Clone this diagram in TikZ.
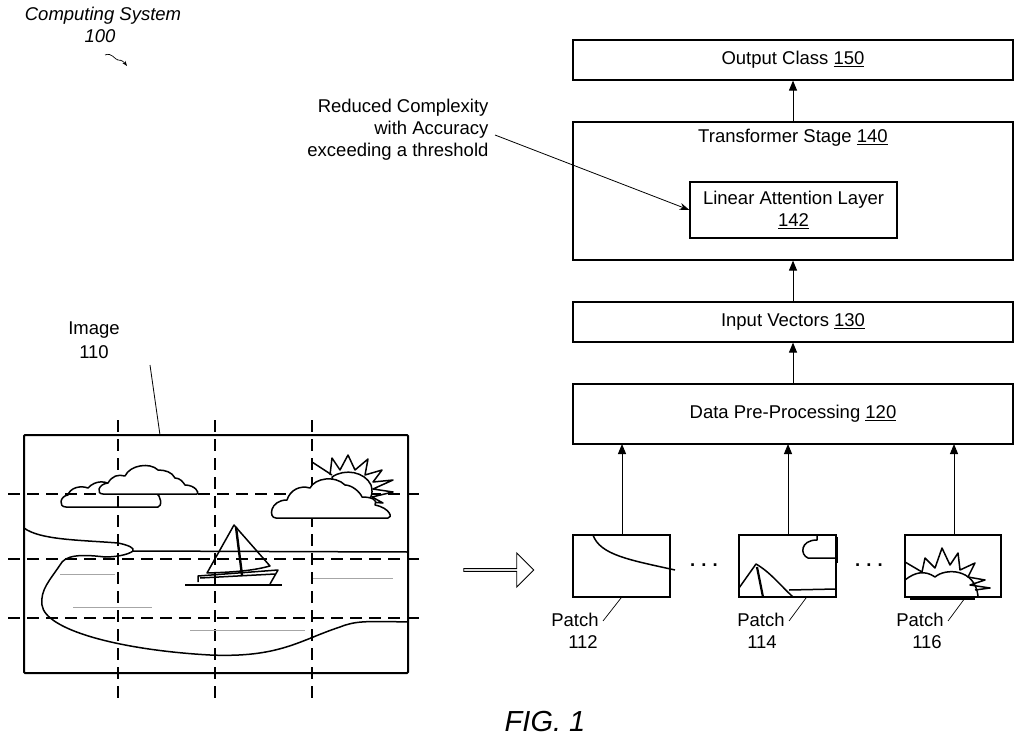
\documentclass[tikz,border=0pt]{standalone}
\usepackage{fontspec}
\setmainfont{Liberation Sans}
\usetikzlibrary{arrows.meta,shapes.arrows,decorations.pathmorphing}
\begin{document}
\begin{tikzpicture}[x=1pt,y=-1pt,
  box/.style={draw,line width=1.2pt,inner sep=0},
  lbl/.style={font=\fontsize{18.5}{22}\selectfont,align=center},
  arr/.style={-{Triangle[length=10pt,width=8pt]},line width=1pt},
  gridl/.style={dash pattern=on 12pt off 7pt,line width=1.4pt},
  pic/.style={line width=1.5pt,line join=round},
  grey/.style={gray!70,line width=1pt}]
\useasboundingbox (0,0) rectangle (1024,743);
% right column
\node[box,minimum width=440,minimum height=40] (out) at (793,60) {};
\node[lbl] at (out) {Output Class \underline{150}};
\node[box,minimum width=440,minimum height=138] (tr) at (793,191) {};
\node[lbl] at (793,138) {Transformer Stage \underline{140}};
\node[box,minimum width=207,minimum height=56,lbl] (lin) at (793.5,210) {Linear Attention Layer\\\underline{142}};
\node[box,minimum width=440,minimum height=40] (iv) at (793,322) {};
\node[lbl] at (iv) {Input Vectors \underline{130}};
\node[box,minimum width=440,minimum height=60] (dp) at (793,414) {};
\node[lbl] at (dp) {Data Pre-Processing \underline{120}};
\draw[arr] (dp.north) -- (iv.south);
\draw[arr] (iv.north) -- (tr.south);
\draw[arr] (tr.north) -- (out.south);
\node[lbl,align=right,anchor=east] (rc) at (492,130) {Reduced Complexity\\with Accuracy\\exceeding a threshold};
\coordinate (rcA) at (495,135);
\draw[-{Stealth[length=10pt,width=7pt]},line width=0.8pt] (rcA) -- (lin.west);
% patches
\node[box,minimum width=97,minimum height=62] (p1) at (621.5,566) {};
\node[box,minimum width=97,minimum height=62] (p2) at (787.5,566) {};
\node[box,minimum width=96,minimum height=62] (p3) at (953,566) {};
\foreach \p/\x in {p1/622,p2/788,p3/954}{
  \draw[arr] (\x,535) -- (\x,444);}
\node[lbl] at (704,565) {\textbf{.\,\,.\,\,.}};
\node[lbl] at (869,565) {\textbf{.\,\,.\,\,.}};
\node[lbl] at (575,620) {Patch}; \node[lbl] at (583,642) {112};
\node[lbl] at (761,620) {Patch}; \node[lbl] at (762,642) {114};
\node[lbl] at (920,620) {Patch}; \node[lbl] at (927,642) {116};
\draw[line width=0.7pt] (603,621) -- (621,598);
\draw[line width=0.7pt] (789,621) -- (806,598);
\draw[line width=0.7pt] (948,621) -- (965,598);
% patch contents
\draw[pic] (593,535) .. controls (600,555) and (630,560) .. (675,570);
\draw[pic] (739,588) -- (756,564) .. controls (770,572) and (780,585) .. (793,597);
\draw[pic,line width=2.2pt] (757,567) -- (763,597);
\draw[pic] (789,590) -- (836,589);
\draw[pic] (817,535) -- (817,540) .. controls (800,540) and (800,555) .. (808,558) -- (836,558);
\draw[line width=3pt] (836,537) -- (836,563);
\begin{scope}
\clip (905,535) rectangle (1015,597);
\draw[pic] (905,580) .. controls (915,572) and (925,570) .. (935,577) .. controls (945,568) and (975,568) .. (978,596);
\draw[pic] (905,562) -- (922,572) -- (925,558) -- (935,568) -- (942,548) -- (950,565) -- (958,553) -- (960,570) -- (975,563) -- (968,577) -- (985,580) -- (970,585) -- (990,588) -- (975,590);
\end{scope}
\draw[line width=3pt] (910,598) -- (975,598);
% hollow arrow
\node[single arrow,draw,line width=0.9pt,minimum width=34,minimum height=70,single arrow head extend=5pt,inner sep=0] (ha) at (498,570) {};
% image
\node[lbl] at (94,330) {Image}; \node[lbl] at (94,352) {110};
\node[draw,line width=2pt,minimum width=384,minimum height=238,inner sep=0,rounded corners=1pt] (img) at (216,554) {};
\draw[line width=0.8pt] (150,365) -- (160,435);
\foreach \x in {118,215,312}{\draw[gridl] (\x,420) -- (\x,702);}
\foreach \y in {494,559,618}{\draw[gridl] (8,\y) -- (423,\y);}
% clouds
\draw[pic] (66,507) .. controls (58,507) and (60,496) .. (68,495) .. controls (70,488) and (80,485) .. (88,488) .. controls (95,480) and (108,480) .. (112,487) -- (155,493) .. controls (162,495) and (162,507) .. (158,507) -- cycle;
\draw[pic,fill=white] (103,494) .. controls (96,494) and (98,484) .. (108,483) .. controls (112,476) and (118,474) .. (125,476) .. controls (130,465) and (150,462) .. (158,470) .. controls (165,470) and (172,472) .. (175,478) .. controls (180,478) and (183,482) .. (185,485) .. controls (195,485) and (200,493) .. (197,494) -- cycle;
\draw[pic] (312,462) -- (332,475);
\draw[pic] (330,475) -- (332,458) -- (340,470) -- (348,455) -- (355,470) -- (368,459) -- (365,475) -- (382,470) -- (373,482) -- (393,480) -- (373,489) -- (393,492) -- (372,497) -- (383,503) -- (370,502);
\draw[pic,fill=white] (332,477) .. controls (345,468) and (365,472) .. (371,485) .. controls (374,495) and (370,500) .. (365,502) -- (340,502) -- cycle;
\draw[pic,fill=white] (276,518) .. controls (268,518) and (270,500) .. (287,500) .. controls (290,490) and (300,485) .. (310,488) .. controls (315,478) and (335,475) .. (345,485) .. controls (352,485) and (360,492) .. (362,497) .. controls (372,497) and (378,500) .. (375,505) .. controls (390,508) and (393,518) .. (388,518) -- cycle;
% shore and water
\draw[pic] (24,528) .. controls (40,540) and (80,540) .. (118,543) .. controls (128,545) and (135,548) .. (133,551) .. controls (128,555) and (115,557) .. (105,557) .. controls (80,554) and (65,555) .. (60,565) .. controls (50,580) and (40,590) .. (42,605) .. controls (45,630) and (120,650) .. (210,655) .. controls (280,658) and (300,640) .. (340,627) .. controls (355,621) and (365,621) .. (408,622);
\draw[pic] (133,551) -- (408,552);
\draw[grey] (60,574) -- (115,574); \draw[grey] (73,607) -- (152,607);
\draw[grey] (190,630) -- (305,630); \draw[grey] (313,578) -- (393,578);
% boat
\draw[pic] (207,573) -- (234,525) -- (270,566) .. controls (255,570) and (240,572) .. (207,573) -- cycle;
\draw[pic,line width=2.4pt] (236,527) -- (242,575);
\draw[pic] (198,582) -- (198,576) -- (278,570) -- (270,584);
\draw[pic] (200,578) -- (275,574);
\draw[pic] (185,585) -- (282,585);
% titles
\node[font=\itshape\fontsize{18.5}{22}\selectfont] at (103,16) {Computing System};
\node[font=\itshape\fontsize{18.5}{22}\selectfont] at (100,36) {100};
\draw[-{Stealth[length=5pt]},line width=0.7pt] (105,55) .. controls (112,52) and (115,60) .. (118,60) .. controls (122,60) and (124,62) .. (127,66);
\node[font=\itshape\fontsize{29}{34}\selectfont] (fig) at (545,722) {FIG. 1};
\end{tikzpicture}
\end{document}
